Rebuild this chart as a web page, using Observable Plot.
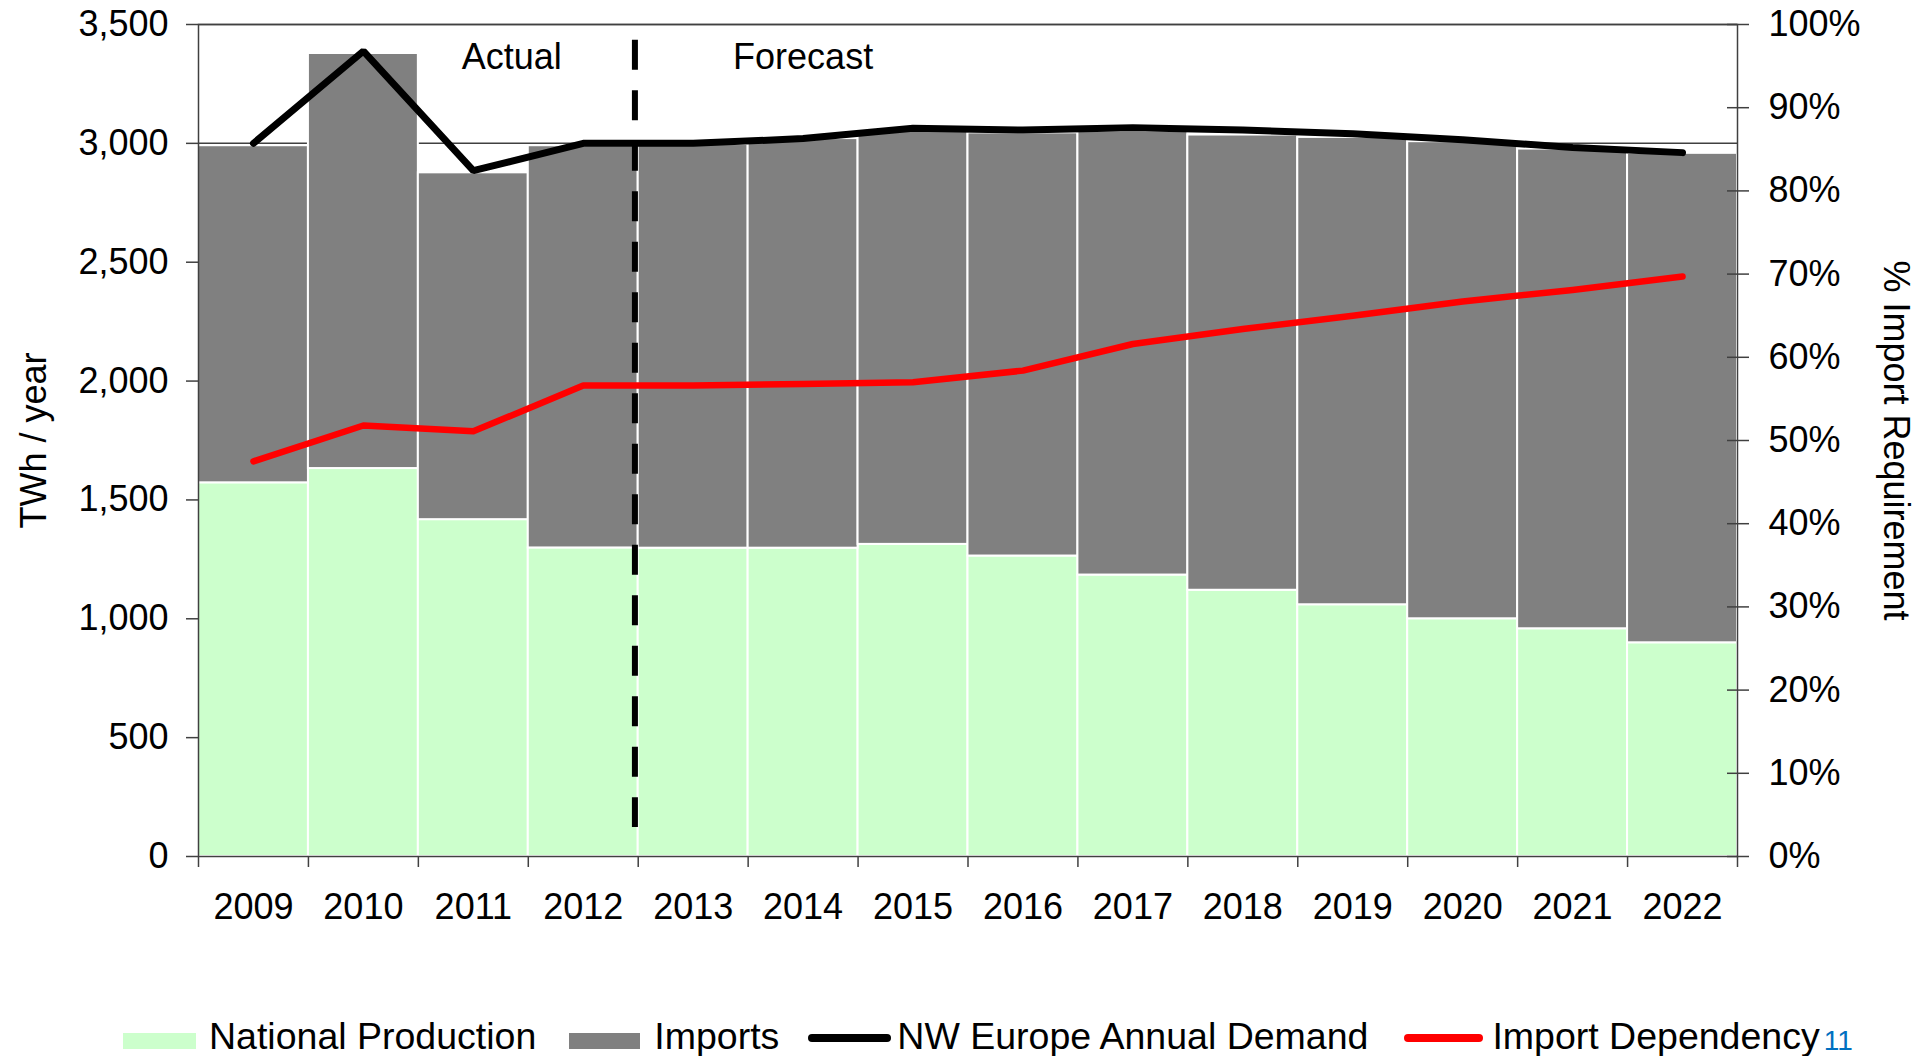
<!DOCTYPE html>
<html>
<head>
<meta charset="utf-8">
<script src="https://cdn.jsdelivr.net/npm/d3@7"></script>
<script src="https://cdn.jsdelivr.net/npm/@observablehq/plot@0.6"></script>
<style>
  html, body { margin: 0; padding: 0; background: white; overflow: hidden; }
  body { width: 1917px; height: 1056px; position: relative; font-family: Arial, "Liberation Sans", sans-serif; }
  #chart svg { max-width: none; }
  #legend { position: absolute; left: 123px; top: 1018px; display: flex; align-items: center; font-size: 37.5px; line-height: 1; color: black; white-space: nowrap; }
  .sw { display: inline-block; height: 16px; position: relative; top: 4px; }
  .ln { display: inline-block; height: 8px; border-radius: 4px; position: relative; top: 1px; }
  .pg { color: #0070C0; font-size: 28px; position: relative; top: 4px; margin-left: 4px; }
</style>
</head>
<body>
<div id="chart"></div>
<div id="legend"></div>
<script>
// ---- data ----
const years = [2009, 2010, 2011, 2012, 2013, 2014, 2015, 2016, 2017, 2018, 2019, 2020, 2021, 2022];
const nationalProduction = [1572, 1632, 1417, 1298, 1297, 1297, 1313, 1264, 1184, 1120, 1059, 1000, 958, 899];
const imports = [1418, 1746, 1459, 1692, 1698, 1723, 1737, 1780, 1866, 1915, 1966, 2007, 2018, 2059];
const nwEuropeDemand = [3000, 3388, 2885, 3000, 3000, 3020, 3064, 3056, 3066, 3056, 3040, 3015, 2983, 2961];
const importDependencyPct = [47.5, 51.8, 51.1, 56.6, 56.6, 56.8, 57.0, 58.4, 61.6, 63.4, 65.0, 66.7, 68.1, 69.7];

const leftTicks = [0, 500, 1000, 1500, 2000, 2500, 3000, 3500];
const rightTicks = [0, 10, 20, 30, 40, 50, 60, 70, 80, 90, 100];
const leftMax = 3500;
const annotations = [
  {label: "Actual", year: 2011.35, value: 3363},
  {label: "Forecast", year: 2014.0, value: 3363}
];
const forecastDivider = [{year: 2012.47, from: 3434, to: 122}];

const legendItems = [
  {label: "National Production", kind: "box", color: "#CCFFCC"},
  {label: "Imports", kind: "box", color: "#808080"},
  {label: "NW Europe Annual Demand", kind: "line", color: "#000000"},
  {label: "Import Dependency", kind: "line", color: "#FF0000"}
];
const pageNumber = "11";

// ---- build table ----
const rows = years.map((year, i) => ({
  year,
  production: nationalProduction[i],
  imports: imports[i],
  demand: nwEuropeDemand[i],
  dependency: importDependencyPct[i]
}));
const pctToLeft = p => p / 100 * leftMax;
const boundaries = years.map(y => y - 0.5).concat([years[years.length - 1] + 0.5]);

const axisColor = "#404040";

const chart = Plot.plot({
  width: 1917,
  height: 960,
  marginLeft: 198,
  marginRight: 180,
  marginTop: 24,
  marginBottom: 104,
  style: {fontFamily: "Arial, 'Liberation Sans', sans-serif", fontSize: "36px", color: "black", background: "white", overflow: "visible"},
  x: {domain: [boundaries[0], boundaries[boundaries.length - 1]], axis: null},
  y: {domain: [0, leftMax], axis: null},
  marks: [
    Plot.ruleY(leftTicks.filter(v => v > 0), {stroke: axisColor, strokeWidth: 1.5}),
    Plot.rect(rows, {x1: d => d.year - 0.5, x2: d => d.year + 0.5, y1: 0, y2: "production", fill: "#CCFFCC", stroke: "white", strokeWidth: 2}),
    Plot.rect(rows, {x1: d => d.year - 0.5, x2: d => d.year + 0.5, y1: "production", y2: d => d.production + d.imports, fill: "#808080", stroke: "white", strokeWidth: 2}),
    Plot.frame({stroke: axisColor, strokeWidth: 1.5}),
    Plot.ruleX(forecastDivider, {x: "year", y1: "from", y2: "to", stroke: "black", strokeWidth: 6, strokeDasharray: "30,20.5"}),
    Plot.line(rows, {x: "year", y: d => pctToLeft(d.dependency), stroke: "#FF0000", strokeWidth: 6.5, strokeLinecap: "round", strokeLinejoin: "round"}),
    Plot.line(rows, {x: "year", y: "demand", stroke: "black", strokeWidth: 7, strokeLinecap: "round", strokeLinejoin: "miter"}),
    Plot.text(annotations, {x: "year", y: "value", text: "label", fill: "black", fontSize: 36}),
    Plot.axisX({ticks: years, tickSize: 0, tickPadding: 37, tickFormat: d => String(d), fontSize: 36, label: null}),
    Plot.axisX({ticks: boundaries, tickSize: 11, tickFormat: () => "", stroke: axisColor, strokeWidth: 1.5, label: null}),
    Plot.axisY({ticks: leftTicks, tickSize: 12, tickPadding: 18, tickFormat: d3.format(","), stroke: axisColor, strokeWidth: 1.5, label: null}),
    Plot.axisY({anchor: "right", ticks: rightTicks.map(pctToLeft), tickSize: 11, tickPadding: 20, tickFormat: d => Math.round(d / leftMax * 100) + "%", stroke: axisColor, strokeWidth: 1.5, label: null}),
    Plot.axisY({anchor: "right", ticks: rightTicks.map(pctToLeft), tickSize: 11, dx: -11, tickFormat: () => "", stroke: axisColor, strokeWidth: 1.5, label: null}),
    Plot.text(["TWh / year"], {text: d => d, frameAnchor: "left", textAnchor: "middle", rotate: -90, dx: -164, fontSize: 36, fill: "black"}),
    Plot.text(["% Import Requirement"], {text: d => d, frameAnchor: "right", textAnchor: "middle", rotate: 90, dx: 158, fontSize: 36, fill: "black"})
  ]
});
document.getElementById("chart").appendChild(chart);

// ---- legend ----
const legend = document.getElementById("legend");
const spacing = [
  {swW: 73, gapAfterSw: 13, gapAfterText: 33},
  {swW: 71, gapAfterSw: 14, gapAfterText: 29},
  {swW: 83, gapAfterSw: 6, gapAfterText: 36},
  {swW: 79, gapAfterSw: 9, gapAfterText: 0}
];
legendItems.forEach((item, i) => {
  const sw = document.createElement("span");
  sw.className = item.kind === "box" ? "sw" : "ln";
  sw.style.background = item.color;
  sw.style.width = spacing[i].swW + "px";
  sw.style.marginRight = spacing[i].gapAfterSw + "px";
  legend.appendChild(sw);
  const t = document.createElement("span");
  t.textContent = item.label;
  t.style.marginRight = spacing[i].gapAfterText + "px";
  legend.appendChild(t);
});
const pg = document.createElement("span");
pg.className = "pg";
pg.textContent = pageNumber;
legend.appendChild(pg);
</script>
</body>
</html>
